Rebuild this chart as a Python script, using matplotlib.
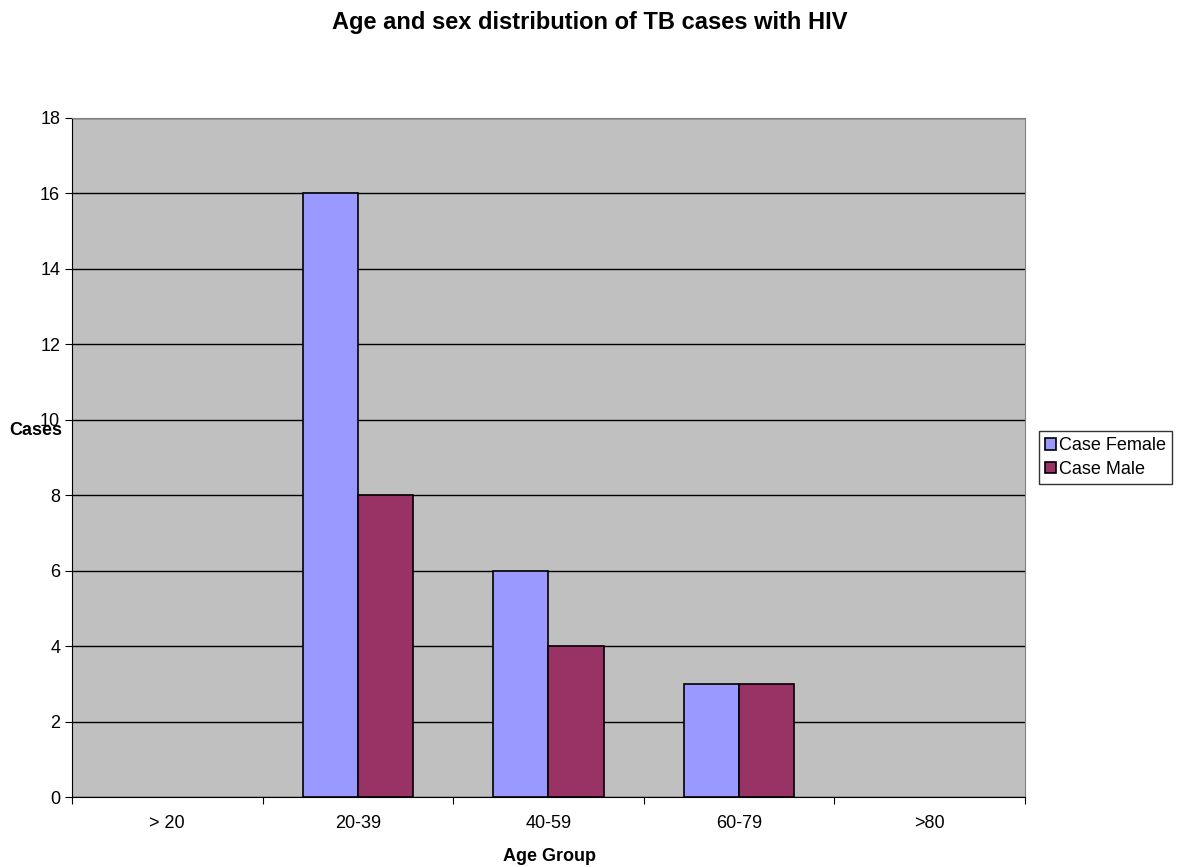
import numpy as np
import matplotlib.pyplot as plt

plt.rcParams['font.family'] = ['Liberation Sans', 'DejaVu Sans']

age_groups = ["> 20", "20-39", "40-59", "60-79", ">80"]
female = [0, 16, 6, 3, 0]
male = [0, 8, 4, 3, 0]

fig = plt.figure(figsize=(11.8, 8.67), dpi=100)
ax = fig.add_axes([0.061, 0.0807, 0.8076, 0.7832])
ax.set_facecolor('#C0C0C0')

x = np.arange(len(age_groups)) + 0.5
w = 0.289
# empty groups get no outline, as in the original chart
ax.bar(x - w / 2, female, w, color='#9999FF', edgecolor='black',
       linewidth=[1.2 if v > 0 else 0 for v in female], label='Case Female', zorder=3)
ax.bar(x + w / 2, male, w, color='#993366', edgecolor='black',
       linewidth=[1.2 if v > 0 else 0 for v in male], label='Case Male', zorder=3)

ax.set_xlim(0, 5)
ax.set_ylim(0, 18)
ax.set_yticks(range(0, 19, 2))
ax.yaxis.grid(True, color='black', linewidth=1, zorder=1)
ax.set_axisbelow(True)

ax.set_xticks(range(0, 6))
ax.set_xticklabels([])
ax.set_xticks(x, minor=True)
ax.set_xticklabels(age_groups, minor=True)
ax.tick_params(axis='x', which='minor', length=0, pad=13, labelsize=13)
ax.tick_params(axis='x', which='major', length=5, direction='out')
ax.tick_params(axis='y', length=5, direction='out', labelsize=13)

for s in ['top', 'right']:
    ax.spines[s].set_color('#808080')
for s in ['left', 'bottom']:
    ax.spines[s].set_color('black')

fig.text(0.5, 0.974, "Age and sex distribution of TB cases with HIV",
         ha='center', va='center', fontsize=17, fontweight='bold')
fig.text(0.008, 0.504, "Cases", ha='left', va='center', fontsize=13, fontweight='bold')
fig.text(0.466, 0.012, "Age Group", ha='center', va='center', fontsize=13, fontweight='bold')

leg = ax.legend(loc='center left', bbox_to_anchor=(1.0147, 0.5), frameon=True, fancybox=False,
                edgecolor='black', fontsize=13, handlelength=0.6, handleheight=0.6,
                handletextpad=0.15, borderpad=0.35, labelspacing=0.35, borderaxespad=0)
leg.get_frame().set_linewidth(1)
for h in leg.legend_handles:
    h.set_linewidth(1.2)

fig.savefig("out.png", dpi=100)
